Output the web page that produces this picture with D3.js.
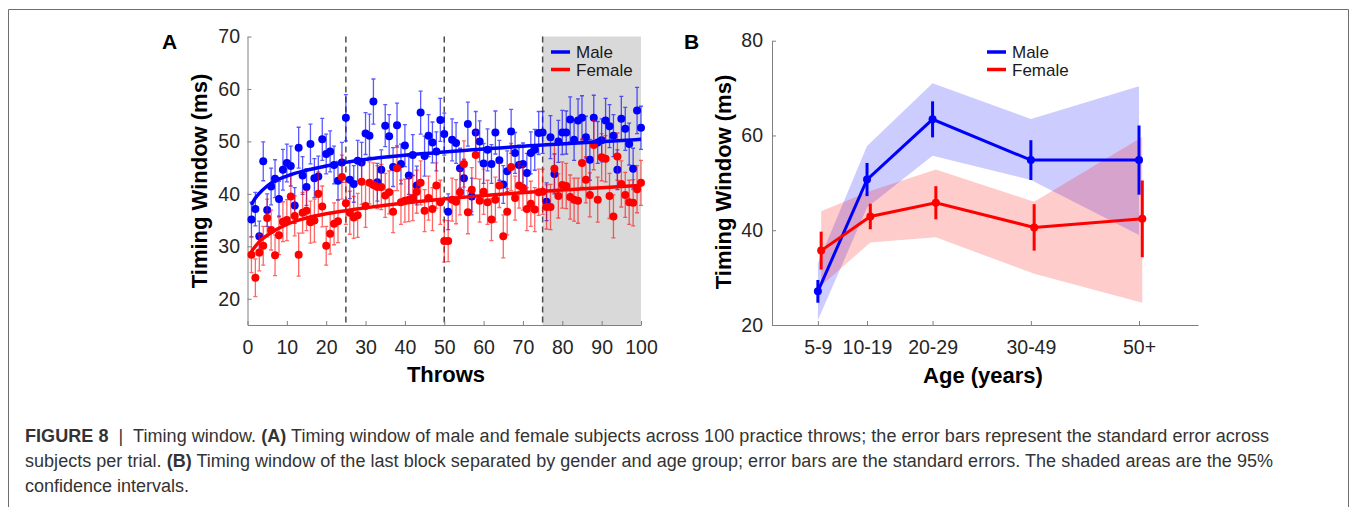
<!DOCTYPE html>
<html>
<head>
<meta charset="utf-8">
<script src="https://cdn.jsdelivr.net/npm/d3@7"></script>
<style>
  body { margin: 0; background: #fff; }
  svg { display: block; font-family: "Liberation Sans", Arial, sans-serif; }
  .axis .domain { stroke: #808080; }
  .axis line { stroke: #808080; }
  .axis text { fill: #262626; font-size: 19.5px; }
</style>
</head>
<body>
<svg id="fig" width="1354" height="507"></svg>
<script>
// ---- panel A: timing window per throw ----
const throws = d3.range(1, 101);
const maleMean = [
  35.1, 37.1, 31.9, 46.2, 36.9, 41.4, 42.9, 39.0, 44.6, 45.9,
  45.3, 37.8, 48.8, 43.5, 41.3, 49.5, 43.0, 43.3, 50.4, 47.6,
  48.1, 45.5, 42.5, 46.0, 54.5, 42.7, 41.9, 46.3, 46.0, 51.5,
  51.1, 57.6, 42.2, 44.6, 53.0, 51.0, 45.1, 53.1, 45.7, 49.2,
  43.5, 47.4, 41.6, 55.5, 47.2, 51.1, 49.8, 48.1, 54.1, 51.4,
  36.6, 50.3, 49.7, 44.9, 43.0, 53.3, 39.5, 51.7, 50.0, 45.8,
  48.4, 45.7, 51.7, 46.4, 41.8, 44.3, 51.9, 47.8, 45.5, 45.7,
  44.0, 47.8, 48.4, 51.6, 51.7, 38.5, 50.8, 43.8, 50.0, 51.7,
  51.7, 54.2, 50.3, 54.0, 54.5, 50.8, 46.5, 54.5, 49.8, 50.2,
  54.0, 52.9, 51.1, 44.6, 54.3, 52.4, 49.5, 44.8, 55.9, 52.6
];
const maleSE = [
  3.3, 3.2, 2.9, 3.7, 3.1, 3.5, 3.6, 3.4, 3.9, 3.6,
  3.8, 3.4, 3.9, 3.6, 3.5, 3.8, 3.7, 3.9, 4.0, 3.8,
  3.9, 3.6, 3.7, 3.8, 4.4, 3.6, 3.5, 3.9, 3.8, 4.0,
  4.1, 4.3, 3.6, 3.8, 4.0, 4.1, 3.7, 4.2, 3.8, 4.0,
  3.6, 3.9, 3.7, 4.1, 3.8, 4.0, 3.9, 3.7, 4.1, 4.0,
  3.4, 4.0, 3.9, 3.8, 3.6, 4.2, 3.5, 4.0, 3.9, 3.8,
  4.0, 3.7, 4.1, 3.8, 3.6, 3.9, 4.2, 3.9, 3.8, 4.0,
  3.7, 4.0, 3.9, 4.1, 4.0, 3.6, 4.1, 3.8, 4.0, 4.2,
  4.1, 4.3, 3.9, 4.1, 4.2, 4.0, 3.9, 4.3, 4.0, 4.1,
  4.2, 4.1, 4.0, 3.8, 4.3, 4.1, 4.0, 3.9, 4.4, 4.1
];
const femaleMean = [
  28.4, 24.0, 28.8, 30.1, 35.4, 33.1, 28.3, 32.1, 34.7, 35.0,
  39.5, 35.8, 28.4, 36.4, 36.8, 34.6, 34.9, 40.0, 37.6, 30.1,
  32.4, 34.3, 34.8, 43.2, 38.2, 36.4, 35.5, 35.9, 42.3, 37.7,
  42.1, 41.7, 41.3, 41.3, 39.7, 40.3, 36.6, 44.9, 38.4, 38.7,
  38.9, 39.2, 40.4, 42.1, 36.8, 39.2, 37.1, 41.6, 38.4, 31.0,
  31.0, 38.9, 38.5, 40.3, 45.7, 36.5, 40.8, 47.4, 38.7, 40.4,
  38.4, 35.1, 38.9, 41.6, 31.9, 36.6, 45.1, 39.2, 41.6, 41.1,
  37.1, 38.1, 37.0, 40.3, 40.4, 37.5, 37.5, 44.8, 39.6, 41.7,
  41.5, 39.4, 38.9, 38.7, 45.9, 42.7, 39.8, 49.3, 38.9, 47.0,
  46.7, 39.6, 35.7, 47.1, 41.9, 39.8, 38.4, 38.3, 40.9, 42.1
];
const femaleSE = [
  3.4, 3.6, 3.5, 3.7, 3.6, 3.8, 3.9, 3.7, 3.8, 3.9,
  4.0, 3.8, 4.1, 3.9, 3.8, 4.0, 4.1, 4.2, 3.9, 3.7,
  3.9, 4.0, 4.1, 4.2, 4.0, 4.1, 4.0, 4.2, 4.3, 4.1,
  4.0, 4.2, 4.1, 4.3, 4.2, 4.1, 4.0, 4.3, 4.2, 4.1,
  4.2, 4.3, 4.1, 4.2, 4.0, 4.2, 4.1, 4.3, 4.2, 4.0,
  3.9, 4.1, 4.2, 4.3, 4.4, 4.1, 4.2, 4.5, 4.1, 4.3,
  4.2, 4.0, 4.3, 4.2, 4.1, 4.4, 4.5, 4.2, 4.3, 4.2,
  4.1, 4.3, 4.2, 4.4, 4.3, 4.2, 4.3, 4.5, 4.2, 4.4,
  4.3, 4.2, 4.1, 4.3, 4.6, 4.4, 4.2, 4.7, 4.3, 4.5,
  4.4, 4.3, 4.1, 4.5, 4.4, 4.3, 4.2, 4.4, 4.5, 4.3
];
// fitted curves
const fitThrows = [1, 2, 3, 5, 10, 15, 20, 25, 50, 75, 100];
const maleFit   = [37.9, 39.2, 40.1, 41.5, 43.4, 44.5, 45.3, 46.0, 48.0, 49.3, 50.4];
const femaleFit = [29.0, 30.0, 30.9, 32.1, 34.2, 35.4, 36.2, 36.8, 39.0, 40.5, 41.6];
const blockEdges = [25, 50, 75];
const lastBlock = [75, 100];
const throwTicks = [0, 10, 20, 30, 40, 50, 60, 70, 80, 90, 100];
const windowTicksA = [20, 30, 40, 50, 60, 70];

// ---- panel B: last block by age group ----
const ageGroups = ["5-9", "10-19", "20-29", "30-49", "50+"];
const ageCenters = [7, 14.5, 24.5, 39.5, 56];
const maleAge = [27.1, 50.7, 63.4, 54.8, 54.8];
const maleAgeSE = [2.4, 3.5, 3.8, 4.2, 7.3];
const maleCILow = [21.0, 44.8, 55.7, 50.6, 39.0];
const maleCIHigh = [33.0, 57.8, 71.0, 63.5, 70.4];
const femaleAge = [35.7, 42.9, 45.8, 40.6, 42.4];
const femaleAgeSE = [4.0, 2.7, 3.5, 4.9, 8.1];
const femaleCILow = [28.3, 37.4, 38.5, 30.8, 24.7];
const femaleCIHigh = [44.0, 48.3, 52.8, 46.0, 59.7];
const windowTicksB = [20, 40, 60, 80];

const BLUE = "#0000ff";
const RED = "#ff0000";

const svg = d3.select("#fig");

// frame round the figure
svg.append("path")
  .attr("d", "M8.5,507 V9.5 H1348.5 V507")
  .attr("fill", "none")
  .attr("stroke", "#6e6e6e")
  .attr("stroke-width", 1);

// ================= Panel A =================
const xA = d3.scaleLinear().domain([0, 100]).range([247.5, 641]);
const yA = d3.scaleLinear().domain([15, 70]).range([325, 36.5]);

const gA = svg.append("g");

gA.append("rect")
  .attr("x", xA(lastBlock[0]))
  .attr("y", yA(70))
  .attr("width", xA(lastBlock[1]) - xA(lastBlock[0]))
  .attr("height", yA(15) - yA(70))
  .attr("fill", "#d9d9d9");

gA.selectAll(".block-edge")
  .data(blockEdges)
  .enter().append("line")
    .attr("class", "block-edge")
    .attr("x1", (d) => xA(d)).attr("x2", (d) => xA(d))
    .attr("y1", yA(70)).attr("y2", yA(15))
    .attr("stroke", "#4d4d4d")
    .attr("stroke-width", 1.5)
    .attr("stroke-dasharray", "6,4");

gA.append("g")
  .attr("class", "axis")
  .attr("transform", `translate(0, ${yA(15)})`)
  .call(d3.axisBottom(xA).tickValues(throwTicks).tickSizeInner(-4).tickSizeOuter(0).tickPadding(15));

gA.append("g")
  .attr("class", "axis")
  .attr("transform", `translate(${xA(0)}, 0)`)
  .call(d3.axisLeft(yA).tickValues(windowTicksA).tickSizeInner(-4).tickSizeOuter(0).tickPadding(7.5));

function drawSeries(g, means, ses, color, barOpacity){
  const rows = throws.map((t, i) => ({t: t, m: means[i], se: ses[i]}));
  const bars = g.append("g")
    .attr("stroke", color)
    .attr("stroke-opacity", barOpacity)
    .attr("stroke-width", 1.3);

  bars.selectAll("path")
    .data(rows)
    .enter().append("path")
      .attr("fill", "none")
      .attr("d", (d) => {
        const x = xA(d.t), y1 = yA(d.m + d.se), y2 = yA(d.m - d.se);
        return `M${x},${y1}V${y2}M${x - 2},${y1}H${x + 2}M${x - 2},${y2}H${x + 2}`;
      });

  g.append("g").selectAll("circle")
    .data(rows)
    .enter().append("circle")
      .attr("cx", (d) => xA(d.t))
      .attr("cy", (d) => yA(d.m))
      .attr("r", 4)
      .attr("fill", color);
}

drawSeries(gA, maleMean, maleSE, BLUE, 0.65);
drawSeries(gA, femaleMean, femaleSE, RED, 0.6);

const fitLine = d3.line()
  .x((d) => xA(d[0]))
  .y((d) => yA(d[1]))
  .curve(d3.curveMonotoneX);

gA.append("path")
  .attr("d", fitLine(fitThrows.map((t, i) => [t, maleFit[i]])))
  .attr("fill", "none").attr("stroke", BLUE).attr("stroke-width", 3.5);

gA.append("path")
  .attr("d", fitLine(fitThrows.map((t, i) => [t, femaleFit[i]])))
  .attr("fill", "none").attr("stroke", RED).attr("stroke-width", 3.5);

function legend(g, x, y){
  const items = [["Male", BLUE], ["Female", RED]];
  items.forEach((it, i) => {
    g.append("line")
      .attr("x1", x).attr("x2", x + 19)
      .attr("y1", y + i * 17.5).attr("y2", y + i * 17.5)
      .attr("stroke", it[1]).attr("stroke-width", 3.5);
    g.append("text")
      .attr("x", x + 25).attr("y", y + i * 17.5 + 6)
      .attr("font-size", 17).attr("fill", "#1a1a1a")
      .text(it[0]);
  });
}
legend(gA, 551, 52);

gA.append("text")
  .attr("x", 446).attr("y", 382)
  .attr("text-anchor", "middle")
  .attr("font-size", 22).attr("font-weight", "bold")
  .text("Throws");

gA.append("text")
  .attr("transform", "translate(207, 181) rotate(-90)")
  .attr("text-anchor", "middle")
  .attr("font-size", 22).attr("font-weight", "bold")
  .text("Timing Window (ms)");

gA.append("text")
  .attr("x", 162).attr("y", 49)
  .attr("font-size", 21).attr("font-weight", "bold")
  .text("A");

// ================= Panel B =================
const xB = d3.scaleLinear().domain([0, 65]).range([772, 1198]);
const yB = d3.scaleLinear().domain([20, 80]).range([325, 40.7]);
const femaleShift = 0.5;

const gB = svg.append("g");

const band = d3.area()
  .x((d) => xB(d.a))
  .y0((d) => yB(d.lo))
  .y1((d) => yB(d.hi));

const maleRows = ageCenters.map((a, i) => ({a: a, m: maleAge[i], se: maleAgeSE[i], lo: maleCILow[i], hi: maleCIHigh[i]}));
const femaleRows = ageCenters.map((a, i) => ({a: a + femaleShift, m: femaleAge[i], se: femaleAgeSE[i], lo: femaleCILow[i], hi: femaleCIHigh[i]}));

gB.append("path").attr("d", band(maleRows)).attr("fill", BLUE).attr("fill-opacity", 0.2);
gB.append("path").attr("d", band(femaleRows)).attr("fill", RED).attr("fill-opacity", 0.2);

gB.append("g")
  .attr("class", "axis")
  .attr("transform", `translate(0, ${yB(20)})`)
  .call(d3.axisBottom(xB).tickValues(ageCenters).tickFormat((d, i) => ageGroups[i])
    .tickSizeInner(-4).tickSizeOuter(0).tickPadding(15));

gB.append("g")
  .attr("class", "axis")
  .attr("transform", `translate(${xB(0)}, 0)`)
  .call(d3.axisLeft(yB).tickValues(windowTicksB).tickSizeInner(-4).tickSizeOuter(0).tickPadding(9));

const ageLine = d3.line().x((d) => xB(d.a)).y((d) => yB(d.m));

[[maleRows, BLUE], [femaleRows, RED]].forEach(([rows, color]) => {
  gB.append("path")
    .attr("d", ageLine(rows))
    .attr("fill", "none").attr("stroke", color).attr("stroke-width", 3);

  gB.append("g").selectAll("line")
    .data(rows)
    .enter().append("line")
      .attr("x1", (d) => xB(d.a)).attr("x2", (d) => xB(d.a))
      .attr("y1", (d) => yB(d.m + d.se)).attr("y2", (d) => yB(d.m - d.se))
      .attr("stroke", color).attr("stroke-width", 3);

  gB.append("g").selectAll("circle")
    .data(rows)
    .enter().append("circle")
      .attr("cx", (d) => xB(d.a)).attr("cy", (d) => yB(d.m))
      .attr("r", 4).attr("fill", color);
});

legend(gB, 987, 52);

gB.append("text")
  .attr("x", 983).attr("y", 383)
  .attr("text-anchor", "middle")
  .attr("font-size", 22).attr("font-weight", "bold")
  .text("Age (years)");

gB.append("text")
  .attr("transform", "translate(731, 182) rotate(-90)")
  .attr("text-anchor", "middle")
  .attr("font-size", 22).attr("font-weight", "bold")
  .text("Timing Window (ms)");

gB.append("text")
  .attr("x", 684).attr("y", 49)
  .attr("font-size", 21).attr("font-weight", "bold")
  .text("B");

// ================= Caption =================
const captionLines = [
  [["FIGURE 8", true], ["  |  ", false], ["Timing window. ", false], ["(A)", true],
   [" Timing window of male and female subjects across 100 practice throws; the error bars represent the standard error across", false]],
  [["subjects per trial. ", false], ["(B)", true],
   [" Timing window of the last block separated by gender and age group; error bars are the standard errors. The shaded areas are the 95%", false]],
  [["confidence intervals.", false]]
];
const captionWidths = [1244, 1248, null];

captionLines.forEach((parts, i) => {
  const t = svg.append("text")
    .attr("x", 25).attr("y", 441.5 + i * 25)
    .attr("font-size", 18).attr("fill", "#333")
    .attr("xml:space", "preserve");
  parts.forEach(([s, bold]) => {
    t.append("tspan").attr("font-weight", bold ? "bold" : "normal").text(s);
  });
  if(captionWidths[i]){
    t.attr("textLength", captionWidths[i]).attr("lengthAdjust", "spacing");
  }
});
</script>
</body>
</html>
